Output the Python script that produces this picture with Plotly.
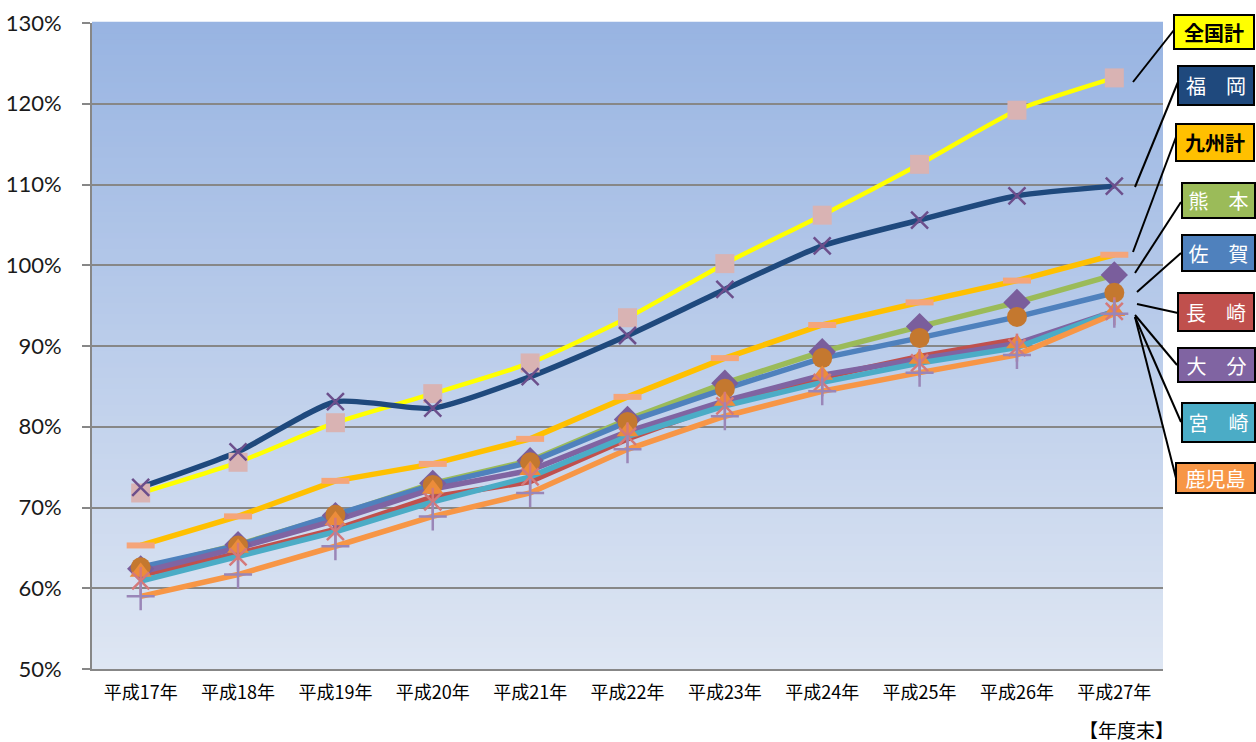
import plotly.graph_objects as go

# ---------------- data ----------------
years = ["平成17年", "平成18年", "平成19年", "平成20年", "平成21年", "平成22年",
         "平成23年", "平成24年", "平成25年", "平成26年", "平成27年"]

zenkoku = [71.8, 75.6, 80.5, 84.1, 87.9, 93.5, 100.2, 106.2, 112.5, 119.2, 123.2]
fukuoka = [72.5, 76.9, 83.1, 82.3, 86.2, 91.3, 97.0, 102.4, 105.6, 108.6, 109.8]
kyushu = [65.3, 68.9, 73.3, 75.4, 78.5, 83.7, 88.5, 92.6, 95.4, 98.1, 101.3]
kumamoto = [62.4, 65.4, 69.0, 73.0, 75.8, 80.9, 85.4, 89.3, 92.4, 95.4, 98.8]
saga = [62.6, 65.3, 69.1, 72.8, 75.6, 80.6, 84.7, 88.5, 91.0, 93.6, 96.6]
nagasaki = [61.6, 64.3, 67.3, 71.3, 73.2, 78.5, 82.9, 86.1, 88.7, 90.8, None]
oita = [62.0, 65.0, 68.4, 72.3, 74.6, 79.4, 83.2, 86.4, 88.4, 90.3, 94.3]
miyazaki = [60.9, 63.9, 67.0, 70.7, 73.8, 78.8, 82.6, 85.5, 87.9, 89.8, 94.3]
kagoshima = [59.0, 61.7, 65.2, 68.9, 71.8, 77.2, 81.3, 84.4, 86.7, 88.9, 94.0]

names = ["全国計", "福岡", "九州計", "熊本", "佐賀", "長崎", "大分", "宮崎", "鹿児島"]
box_labels = ["全国計", "福\u3000岡", "九州計", "熊\u3000本", "佐\u3000賀",
              "長\u3000崎", "大\u3000分", "宮\u3000崎", "鹿児島"]
y_ticks = [50, 60, 70, 80, 90, 100, 110, 120, 130]
y_ticktext = [f"{v}%" for v in y_ticks]
x_note = "【年度末】"

series = [zenkoku, fukuoka, kyushu, kumamoto, saga, nagasaki, oita, miyazaki, kagoshima]

# ---------------- styles ----------------
line_colors = ["#FFFF00", "#1F497D", "#FFC000", "#9BBB59", "#4F81BD",
               "#C0504D", "#8064A2", "#4BACC6", "#F79646"]
line_widths = [4.5, 5.5, 5.5, 5.5, 5.5, 5.5, 5.5, 5.5, 5.5]
line_shapes = ["spline", "spline", "linear", "linear", "linear",
               "linear", "linear", "linear", "linear"]
# marker: (symbol, size, fill color, line color, line width)
markers = [
    ("square", 19, "#D9B3B3", "#D9B3B3", 0),
    ("x-thin", 17, "#6C4F8C", "#6C4F8C", 2.5),
    ("line-ew", 20, "#F5A57A", "#F5A57A", 6),
    ("diamond", 21, "#7A5E9C", "#7A5E9C", 0),
    ("circle", 20, "#C4782F", "#C4782F", 0),
    None,
    ("triangle-up", 19, "#EC8C3A", "#EC8C3A", 0),
    ("x-thin", 17, "#D4797A", "#D4797A", 2.5),
    ("cross-thin", 20, "#9A86B8", "#9A86B8", 2.5),
]
box_bg = ["#FFFF00", "#1F497D", "#FFC000", "#9BBB59", "#4F81BD",
          "#C0504D", "#8064A2", "#4BACC6", "#F79646"]
box_fg = ["#000000", "#FFFFFF", "#000000", "#FFFFFF", "#FFFFFF",
          "#FFFFFF", "#FFFFFF", "#FFFFFF", "#FFFFFF"]
# legend box centre (pixels), size, and callout line end points (pixels)
box_cx = [1214, 1216, 1215, 1218, 1218, 1216, 1216, 1218, 1215]
box_cy = [32, 85, 142, 200, 253, 312, 365, 422, 478]
box_w = [76, 72, 74, 69, 69, 72, 73, 69, 75]
box_h = [30, 35, 33, 31, 32, 34, 30, 35, 26]
call_from = [(1133, 82), (1135, 187), (1133, 252), (1135, 273), (1137, 292),
             (1137, 304), (1135, 315), (1135, 317), (1135, 317)]
call_to = [(1174, 30), (1178, 82), (1176, 137), (1181, 202), (1181, 253),
           (1178, 313), (1177, 365), (1181, 422), (1176, 478)]

W, H = 1256, 742
L, R, T, B = 92, 93, 23, 73
PW, PH = W - L - R, H - T - B


def px2paper(px, py):
    return (px - L) / PW, (H - B - py) / PH


fig = go.Figure()

# lines first
for vals, name, col, lw, shp in zip(series, names, line_colors, line_widths, line_shapes):
    fig.add_trace(go.Scatter(
        x=years, y=vals, mode="lines", name=name,
        line=dict(color=col, width=lw, shape=shp, smoothing=0.6),
        hoverinfo="skip", showlegend=False, connectgaps=False))

# then markers
for vals, name, mk in zip(series, names, markers):
    if mk is None:
        continue
    sym, size, fill, lc, lw = mk
    fig.add_trace(go.Scatter(
        x=years, y=vals, mode="markers", name=name,
        marker=dict(symbol=sym, size=size, color=fill,
                    line=dict(color=lc, width=lw)),
        hoverinfo="skip", showlegend=False))
    if name == "宮崎":
        fig.add_trace(go.Scatter(
            x=years, y=vals, mode="markers", name=name,
            marker=dict(symbol="line-ns", size=20, color=fill,
                        line=dict(color=lc, width=2.5)),
            hoverinfo="skip", showlegend=False))

# gradient background of plot area
top = (152, 180, 226)
bot = (222, 230, 243)
N = 120
shapes = []
for i in range(N):
    t = i / (N - 1)
    c = tuple(round(bot[k] + (top[k] - bot[k]) * t) for k in range(3))
    shapes.append(dict(type="rect", xref="paper", yref="paper",
                       x0=0, x1=1, y0=i / N, y1=(i + 1) / N + 0.002,
                       fillcolor=f"rgb{c}", line=dict(width=0), layer="below"))

# callout lines
for (fx, fy), (tx, ty) in zip(call_from, call_to):
    x0, y0 = px2paper(fx, fy)
    x1, y1 = px2paper(tx, ty)
    shapes.append(dict(type="line", xref="paper", yref="paper",
                       x0=x0, y0=y0, x1=x1, y1=y1,
                       line=dict(color="#000000", width=2), layer="above"))

annotations = []
for lab, bg, fg, cx, cy, bw, bh in zip(box_labels, box_bg, box_fg, box_cx, box_cy, box_w, box_h):
    ax_, ay_ = px2paper(cx, cy)
    annotations.append(dict(
        xref="paper", yref="paper", x=ax_, y=ay_, xanchor="center", yanchor="middle",
        text=f"<b>{lab}</b>" if fg == "#000000" else lab,
        showarrow=False, bgcolor=bg, bordercolor="#000000", borderwidth=2,
        borderpad=1, width=bw, height=bh,
        font=dict(family="Noto Sans CJK JP", size=20, color=fg)))

nx, ny = px2paper(1126, 729)
annotations.append(dict(xref="paper", yref="paper", x=nx, y=ny, xanchor="center",
                        yanchor="middle", text=x_note, showarrow=False,
                        font=dict(family="Noto Sans CJK JP", size=19, color="#000000")))

fig.update_layout(
    width=W, height=H,
    margin=dict(l=L, r=R, t=T, b=B, pad=0),
    paper_bgcolor="#FFFFFF",
    plot_bgcolor="rgb(222,230,243)",
    showlegend=False,
    hovermode=False,
    shapes=shapes,
    annotations=annotations,
    xaxis=dict(type="category", range=[-0.5, len(years) - 0.5], automargin=False,
               showgrid=False, showline=True, linecolor="#878787", linewidth=2,
               ticks="", zeroline=False, ticklabelstandoff=6,
               tickfont=dict(family="Noto Sans CJK JP", size=18, color="#000000")),
    yaxis=dict(range=[50, 130], tickvals=y_ticks, ticktext=y_ticktext, automargin=False,
               showgrid=True, gridcolor="#878787", gridwidth=2,
               showline=True, linecolor="#878787", linewidth=2,
               ticks="outside", ticklen=8, tickcolor="#878787", tickwidth=2,
               zeroline=False, ticklabelstandoff=16,
               tickfont=dict(family="Lato", size=22, color="#1A1A1A")),
)

fig.write_html("out.html", config={"displayModeBar": False},
               post_script="document.body.style.margin='0';document.body.style.overflow='hidden';")
